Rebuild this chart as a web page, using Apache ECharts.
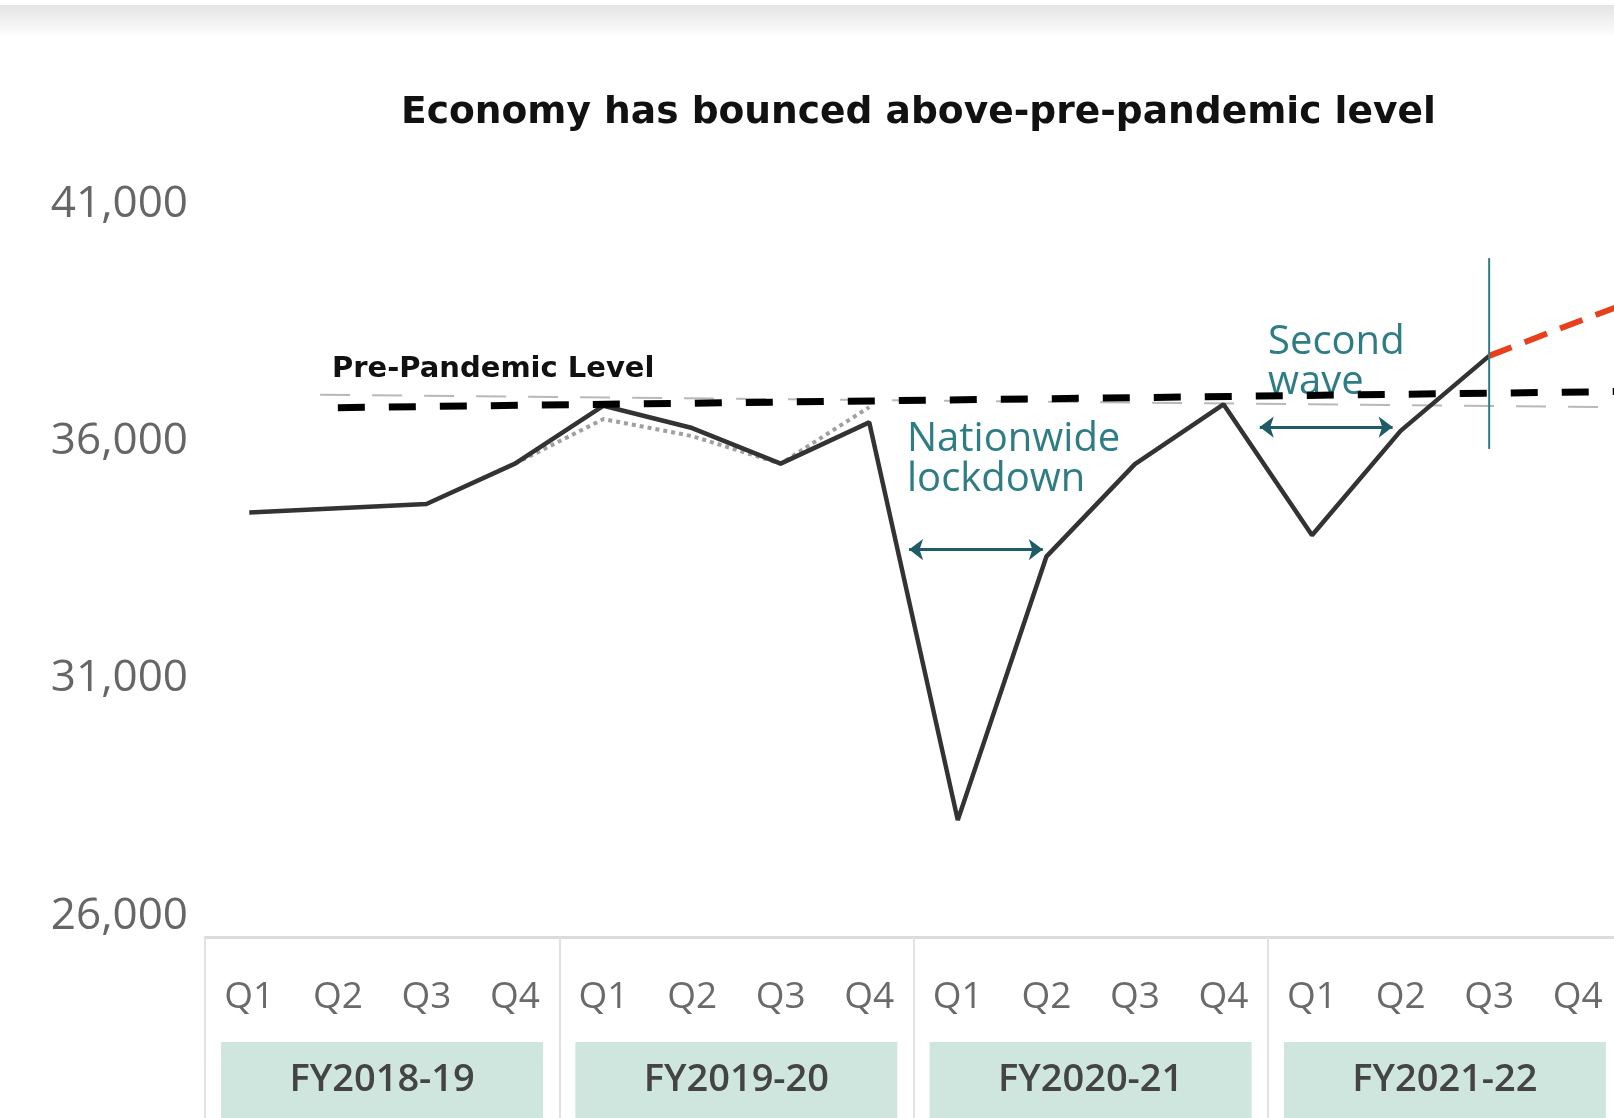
<!DOCTYPE html>
<html>
<head>
<meta charset="utf-8">
<title>Economy has bounced above-pre-pandemic level</title>
<script src="https://cdn.jsdelivr.net/npm/echarts@6/dist/echarts.min.js"></script>
<style>
  html, body { margin: 0; padding: 0; background: #fff; }
  #chart { width: 1614px; height: 1118px; }
</style>
</head>
<body>
<div id="chart"></div>
<script>
const quarters = ["Q1", "Q2", "Q3", "Q4", "Q1", "Q2", "Q3", "Q4", "Q1", "Q2", "Q3", "Q4", "Q1", "Q2", "Q3", "Q4"];
const fiscalYears = ["FY2018-19", "FY2019-20", "FY2020-21", "FY2021-22"];

const gdp = [34500, 34590, 34680, 35530, 36750, 36280, 35530, 36400, 28020, 33570, 35520, 36780, 34020, 36220, 37800];
// older estimate (grey dotted), only FY2018-19 Q4 .. FY2019-20 Q4
const gdpOld = [null, null, null, 35530, 36470, 36110, 35530, 36720];
// forecast (red dashed), from FY2021-22 Q3 to the right edge
const forecastX = [14, 15, 15.5];
const forecastY = [37800, 38520, 38870];

// pre-pandemic level lines (black dashed and the faint grey one)
const preLevelX = [1, 15.5];
const preLevelY = [36710, 37050];
const preLevelOldX = [0.8, 15.5];
const preLevelOldY = [36980, 36720];

// annotations
const lockdownSpan = [7.45, 8.96];
const lockdownY = 33720;
const waveSpan = [11.41, 12.91];
const waveY = 36300;
const markerX = 14;
const markerRange = [35840, 39860];

const teal = "#2e7d84";

const chart = echarts.init(document.getElementById("chart"));

const pairs = (xs, ys) => xs.map((x, i) => [x, ys[i]]);

const option = {
  backgroundColor: "#ffffff",
  animation: false,
  title: {
    text: "Economy has bounced above-pre-pandemic level",
    left: 396,
    top: 89,
    textStyle: { fontFamily: "DejaVu Sans", fontWeight: "bold", fontSize: 37.6, color: "#111" }
  },
  grid: { left: 205, top: 204, width: 1417, height: 712, outerBoundsMode: "none" },
  xAxis: [
    { type: "value", min: -0.5, max: 15.5, show: false },
    {
      type: "category",
      data: quarters,
      position: "bottom",
      offset: 21,
      axisLine: { show: false },
      axisTick: { show: false },
      axisLabel: {
        interval: 0,
        margin: 40,
        fontFamily: "Open Sans",
        fontSize: 37,
        lineHeight: 40,
        color: "#6a6a6a"
      }
    },
    {
      type: "category",
      data: fiscalYears,
      position: "bottom",
      offset: 21,
      axisLine: { show: true, lineStyle: { color: "#dcdcdc", width: 3 } },
      axisTick: { show: true, length: 190, lineStyle: { color: "#e2e2e2", width: 2 } },
      axisLabel: {
        interval: 0,
        margin: 105,
        width: 322,
        height: 76,
        lineHeight: 76,
        align: "center",
        backgroundColor: "#cfe6de",
        fontFamily: "Open Sans",
        fontWeight: 600,
        fontSize: 38,
        color: "#444"
      }
    }
  ],
  yAxis: {
    type: "value",
    min: 26000,
    max: 41000,
    interval: 5000,
    axisLine: { show: false },
    axisTick: { show: false },
    splitLine: { show: false },
    axisLabel: {
      margin: 17,
      fontFamily: "Open Sans",
      fontSize: 44,
      color: "#666",
      formatter: v => v.toLocaleString("en-US")
    }
  },
  series: [
    {
      name: "Pre-pandemic (old)",
      type: "line",
      xAxisIndex: 0,
      data: pairs(preLevelOldX, preLevelOldY),
      symbol: "none",
      lineStyle: { color: "#b8b8b8", width: 2, type: [30, 22] },
      z: 1
    },
    {
      name: "Old estimate",
      type: "line",
      xAxisIndex: 0,
      data: gdpOld.map((v, i) => [i, v]),
      symbol: "none",
      lineStyle: { color: "#a0a0a0", width: 4, type: "dotted" },
      z: 2
    },
    {
      name: "GDP",
      type: "line",
      xAxisIndex: 0,
      data: gdp.map((v, i) => [i, v]),
      symbol: "none",
      lineStyle: { color: "#333", width: 4.5 },
      z: 3
    },
    {
      name: "Pre-pandemic level",
      type: "line",
      xAxisIndex: 0,
      data: pairs(preLevelX, preLevelY),
      symbol: "none",
      lineStyle: { color: "#000", width: 7, type: [27, 24] },
      z: 4
    },
    {
      name: "Forecast",
      type: "line",
      xAxisIndex: 0,
      data: pairs(forecastX, forecastY),
      symbol: "none",
      lineStyle: { color: "#e8401c", width: 6, type: [24, 14] },
      z: 4
    },
    {
      name: "Marker",
      type: "line",
      xAxisIndex: 0,
      data: markerRange.map(v => [markerX, v]),
      symbol: "none",
      lineStyle: { color: teal, width: 2 },
      z: 5
    },
    {
      name: "Arrows",
      type: "line",
      xAxisIndex: 0,
      data: [],
      markLine: {
        silent: true,
        symbol: ["arrow", "arrow"],
        symbolSize: [16, 14],
        label: { show: false },
        lineStyle: { color: "#1e5d66", width: 3, type: "solid" },
        data: [
          [{ coord: [lockdownSpan[0], lockdownY] }, { coord: [lockdownSpan[1], lockdownY] }],
          [{ coord: [waveSpan[0], waveY] }, { coord: [waveSpan[1], waveY] }]
        ]
      }
    }
  ],
  graphic: [
    {
      type: "rect",
      shape: { x: 0, y: 5, width: 1614, height: 32 },
      style: {
        fill: new echarts.graphic.LinearGradient(0, 0, 0, 1, [
          { offset: 0, color: "#e4e4e4" },
          { offset: 1, color: "#ffffff" }
        ])
      },
      silent: true
    },
    {
      type: "text",
      x: 332,
      y: 369,
      style: {
        text: "Pre-Pandemic Level",
        font: "bold 29px 'DejaVu Sans'",
        fill: "#111",
        verticalAlign: "middle"
      }
    },
    {
      type: "text",
      x: 907,
      y: 460,
      style: {
        text: "Nationwide\nlockdown",
        font: "40px 'Open Sans'",
        lineHeight: 40,
        fill: teal,
        verticalAlign: "middle"
      }
    },
    {
      type: "text",
      x: 1268,
      y: 363,
      style: {
        text: "Second\nwave",
        font: "40px 'Open Sans'",
        lineHeight: 40,
        fill: teal,
        verticalAlign: "middle"
      }
    }
  ]
};

chart.setOption(option);
window.addEventListener("resize", () => chart.resize());
</script>
</body>
</html>
